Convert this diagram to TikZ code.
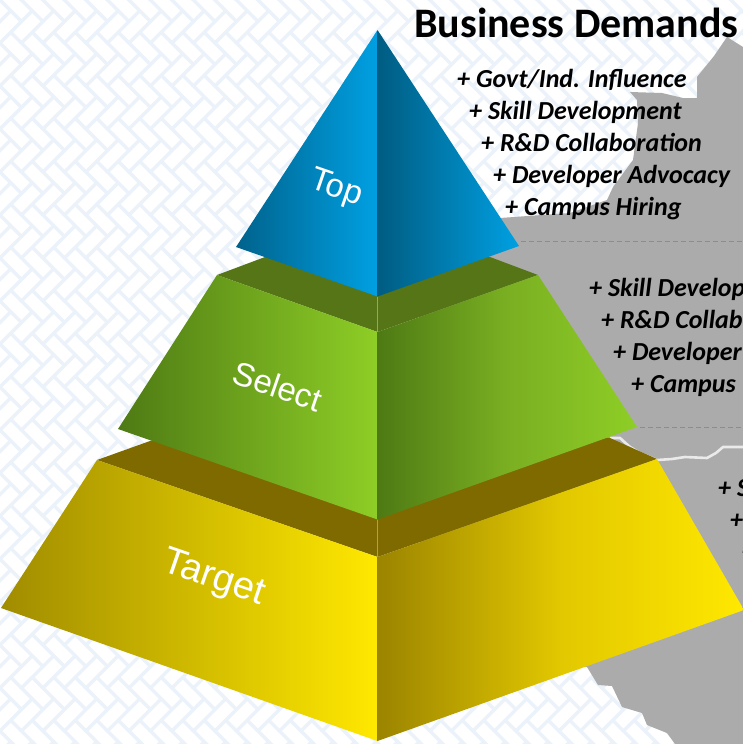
\documentclass[tikz,border=0pt]{standalone}
\usepackage{fontspec}
\setmainfont{Carlito}
\newfontfamily\labelfont{Liberation Sans}
\definecolor{weave}{HTML}{EBF2FA}
\definecolor{mapgray}{HTML}{ABABAB}
\definecolor{dashblue}{HTML}{3F9FF0}
\definecolor{bandolive}{HTML}{7F6A00}
\definecolor{bandgreen}{HTML}{557516}
\definecolor{yellowdark}{HTML}{A08C00}
\definecolor{yellowdarker}{HTML}{9B8400}
\definecolor{yellowmid}{HTML}{E2C800}
\definecolor{yellowlight}{HTML}{FFE800}
\definecolor{greendark}{HTML}{4E7A14}
\definecolor{greenmid}{HTML}{7AAF22}
\definecolor{greenlight}{HTML}{8ECE26}
\definecolor{bluedark}{HTML}{00628C}
\definecolor{bluedarker}{HTML}{005C82}
\definecolor{bluelight}{HTML}{00A0E2}
\tikzset{
  demand/.style={anchor=base west,inner sep=0pt,font=\fontsize{26}{26}\selectfont\bfseries\itshape,text=black},
  tier/.style={inner sep=0pt,text=white,rotate=-19},
  levelline/.style={dashblue,line width=1pt,dash pattern=on 5pt off 3pt},
  seam/.style={line width=0.4pt,opacity=0.6}
}
\begin{document}
\begin{tikzpicture}[x=1pt,y=-1pt]
\useasboundingbox (0,0) rectangle (743,744);
\begin{scope}
\clip (0,0) rectangle (743,744);
\fill[white] (0,0) rectangle (743,744);
% woven background
\foreach \i in {-2,...,35} \foreach \j in {-1,...,19} {
  \pgfmathsetmacro{\xo}{\i*21.5}
  \pgfmathsetmacro{\yo}{\j*43}
  \draw[weave,line width=3.4pt] (\xo+21.5,\yo+21.5) -- (\xo,\yo) -- (\xo+32.25,\yo-32.25) (\xo+10.75,\yo-10.75) -- (\xo+21.5,\yo);
}
% map silhouette
\fill[mapgray] (727,37) -- (714,56) -- (697,77) -- (697,98) -- (683,98) -- (662,93) -- (630,92) -- (637,100) -- (638,123) -- (633,160) -- (613,187) -- (607,200) -- (570,213) -- (500,218) -- (420,300) -- (420,640) -- (587,667) -- (598,685) -- (612,686) -- (622,707) -- (642,713) -- (647,725) -- (667,733) -- (675,744) -- (743,744) -- (743,47) -- cycle;
\draw[white!75!mapgray,line width=2.6pt,line join=round] (610,438) -- (620,438) -- (630,447) -- (640,453) -- (657,460) -- (672,459) -- (685,457) -- (707,458) -- (716,453) -- (723,447) -- (743,447);
% level lines
\coordinate (levelA) at (521,241); \coordinate (levelAend) at (743,241);
\coordinate (levelB) at (640,427); \coordinate (levelBend) at (743,427);
\draw[levelline] (levelA) -- (levelAend);
\draw[levelline] (levelB) -- (levelBend);
% target tier
\fill[bandolive] (97,460) -- (150,441) -- (377.5,400) -- (610,438) -- (657,459) -- (377.5,557) -- cycle;
\shade[left color=yellowdark,right color=yellowlight] (97,460) -- (377.5,557) -- (377.5,741) -- (1,608) -- cycle;
\shade[left color=yellowdarker,right color=yellowlight,middle color=yellowmid] (377.5,557) -- (657,459) -- (744,610) -- (377.5,741) -- cycle;
% select tier
\fill[bandgreen] (217,275) -- (265,257) -- (377.5,240) -- (490,257) -- (538,275) -- (377.5,332) -- cycle;
\shade[left color=greendark,right color=greenlight] (217,275) -- (377.5,332) -- (377.5,519.5) -- (118,429) -- cycle;
\shade[left color=greendark,right color=greenlight,middle color=greenmid] (377.5,332) -- (538,275) -- (637,427) -- (377.5,519.5) -- cycle;
% top tier
\shade[left color=bluedark,right color=bluelight] (377.5,30) -- (377.5,296.5) -- (236,247) -- cycle;
\shade[left color=bluedarker,right color=bluelight] (377.5,30) -- (519,246) -- (377.5,296.5) -- cycle;
% seams
\draw[seam,white!60!bandgreen] (377.5,296.5) -- (377.5,332);
\draw[seam,white!60!bandolive] (377.5,519.5) -- (377.5,557);
% labels
\node[tier,font=\labelfont\fontsize{33}{33}\selectfont] (top) at (336,189) {Top};
\node[tier,font=\labelfont\fontsize{33}{33}\selectfont] (select) at (277.5,386) {Select};
\node[tier,font=\labelfont\fontsize{38}{38}\selectfont] (target) at (213.5,579) {Target};
\node[anchor=base west,inner sep=0pt,font=\fontsize{42}{42}\selectfont\bfseries] (title) at (414,37.5) {Business Demands};
\node[demand] (d1) at (457,87) {+ Govt/Ind. Influence};
\node[demand] (d2) at (469,119) {+ Skill Development};
\node[demand] (d3) at (481,151) {+ R\&D Collaboration};
\node[demand] (d4) at (493,183) {+ Developer Advocacy};
\node[demand] (d5) at (505,215) {+ Campus Hiring};
\node[demand] (s1) at (589,296) {+ Skill Develop};
\node[demand] (s2) at (601,328) {+ R\&D Collab};
\node[demand] (s3) at (613,360) {+ Developer};
\node[demand] (s4) at (631,392) {+ Campus};
\node[demand] (t1) at (718,496) {+ S};
\node[demand] (t2) at (730,528) {+};
\node[demand] (t3) at (742,560) {+};
\end{scope}
\end{tikzpicture}
\end{document}
